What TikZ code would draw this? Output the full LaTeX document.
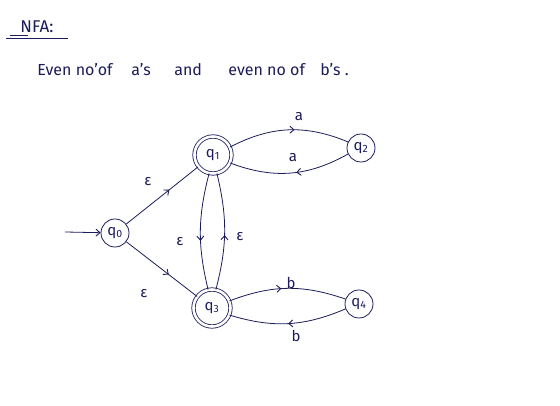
\documentclass[tikz,border=0pt]{standalone}
\usepackage{fontspec}
\setmainfont{Fira Sans}
\usetikzlibrary{decorations.markings,arrows.meta}
\definecolor{ink}{HTML}{1C1C5A}
\begin{document}
\begin{tikzpicture}[x=1pt,y=1pt,
  every path/.style={draw=ink, line width=0.8pt},
  tip/.tip={Straight Barb[length=4pt,width=7pt,line width=0.9pt]},
  statebox/.style={circle, draw=ink, minimum size=28pt, inner sep=0pt, text=ink, font=\fontsize{15}{15}\selectfont},
  acceptbox/.style={statebox, double=white, double distance=2.6pt, minimum size=37pt},
  lbl/.style={text=ink, font=\fontsize{15}{15}\selectfont, inner sep=1pt},
  txt/.style={text=ink, font=\fontsize{16}{16}\selectfont, anchor=west, inner sep=0pt},
  midarrow/.style={postaction={decorate}, decoration={markings, mark=at position #1 with {\arrow{tip}}}},
  midarrow/.default=0.5]
\useasboundingbox[fill=white, draw=none] (0,0) rectangle (560,406);

% title
\node[text=ink, font=\fontsize{17}{17}\selectfont, anchor=west, inner sep=0pt] (title) at (20,379) {NFA:};
\draw (6,368) -- (68,368);
\draw (10,371) -- (28,371);
\node[txt] (t1) at (37,336) {Even no'of};
\node[txt] (t2) at (131,336) {a's};
\node[txt] (t3) at (174,336) {and};
\node[txt] (t4) at (228,336) {even no of};
\node[txt] (t5) at (320,336) {b's .};

% states
\node[statebox] (q0) at (115,173) {q\textsubscript{0}};
\node[acceptbox] (q1) at (213,251) {q\textsubscript{1}};
\node[statebox] (q2) at (361,258) {q\textsubscript{2}};
\node[acceptbox] (q3) at (212,98) {q\textsubscript{3}};
\node[statebox] (q4) at (359,102) {q\textsubscript{4}};

\coordinate (start) at (65,174);
\draw[-tip] (start) -- (q0);

% epsilon from q0
\draw[midarrow=0.6] (q0) -- (q1);
\draw[midarrow=0.6] (q0) -- (q3);

% q1 <-> q2
\draw[midarrow=0.55] (q1.25) to[bend left=25] (q2.155);
\draw[midarrow=0.45] (q2.205) to[bend left=25] (q1.-25);

% q1 <-> q3
\draw[midarrow=0.58] (q1.258) to[bend right=14] (q3.102);
\draw[midarrow=0.47] (q3.78) to[bend right=14] (q1.282);

% q3 <-> q4
\draw[midarrow=0.45] (q3.22) to[bend left=20] (q4.160);
\draw[midarrow=0.5] (q4.200) to[bend left=20] (q3.-22);

% labels
\node[lbl] (la1) at (299,289) {a};
\node[lbl] (la2) at (293,248) {a};
\node[lbl] (le1) at (148,224) {ε};
\node[lbl] (le2) at (180,164) {ε};
\node[lbl] (le3) at (240,169) {ε};
\node[lbl] (le4) at (144,112) {ε};
\node[lbl] (lb1) at (291,123) {b};
\node[lbl] (lb2) at (296,70) {b};
\end{tikzpicture}
\end{document}
